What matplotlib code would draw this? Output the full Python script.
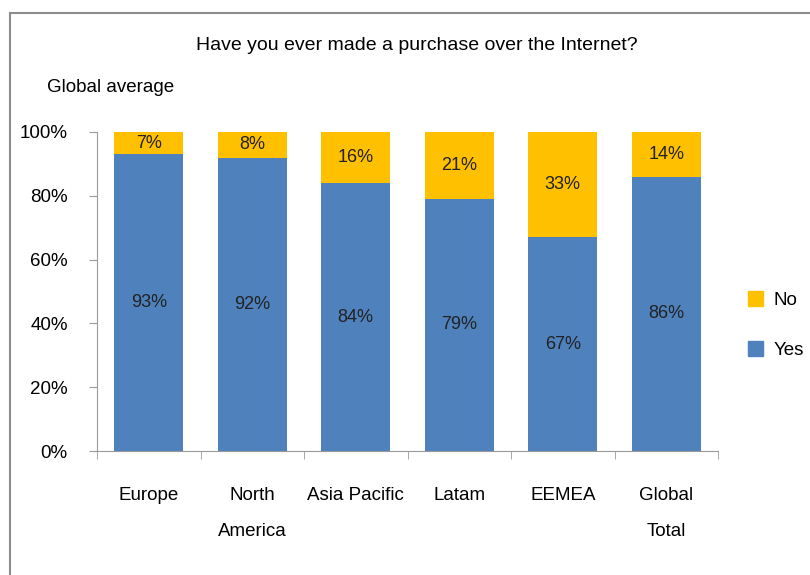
import matplotlib.pyplot as plt
from matplotlib.patches import Rectangle, Patch

plt.rcParams['font.family'] = ['Liberation Sans', 'DejaVu Sans']

regions = ["Europe", "North\nAmerica", "Asia Pacific", "Latam", "EEMEA", "Global\nTotal"]
yes_pct = [93, 92, 84, 79, 67, 86]
no_pct = [7, 8, 16, 21, 33, 14]
yticks = [0, 20, 40, 60, 80, 100]

blue = "#4F81BD"
gold = "#FFC000"

fig = plt.figure(figsize=(8.1, 5.75), dpi=100)
fig.patch.set_facecolor("white")

# thin grey frame round the slide area
fig.patches.append(Rectangle((10 / 810, -0.05), 1.2, 1 - 13 / 575 + 0.05,
                             transform=fig.transFigure, fill=False,
                             edgecolor="#8c8c8c", linewidth=1.5))

ax = fig.add_axes([97 / 810, 1 - 451 / 575, 621 / 810, 319 / 575])

x = list(range(len(regions)))
ax.bar(x, yes_pct, width=0.67, color=blue, label="Yes", zorder=2)
ax.bar(x, no_pct, width=0.67, bottom=yes_pct, color=gold, label="No", zorder=2)

for i in x:
    ax.text(i, yes_pct[i] / 2, f"{yes_pct[i]}%", ha="center", va="center",
            fontsize=13, color="#222222")
    ax.text(i, yes_pct[i] + no_pct[i] / 2, f"{no_pct[i]}%", ha="center",
            va="center", fontsize=13, color="#222222")

ax.set_xlim(-0.5, len(regions) - 0.5)
ax.set_ylim(0, 100)
ax.set_yticks(yticks)
ax.set_yticklabels([f"{v}%" for v in yticks], fontsize=13.5)
ax.set_xticks([i - 0.5 for i in range(len(regions) + 1)], minor=True)
ax.set_xticks(x)
ax.set_xticklabels(regions, fontsize=13.5, linespacing=2.45, va="top")
ax.tick_params(axis="x", which="major", length=0, pad=26)
ax.tick_params(axis="x", which="minor", length=6, color="#999999")
ax.tick_params(axis="y", length=6, color="#999999", pad=15, direction="out")
for s in ["top", "right"]:
    ax.spines[s].set_visible(False)
for s in ["left", "bottom"]:
    ax.spines[s].set_color("#999999")

fig.text(417 / 810, 1 - 45 / 575, "Have you ever made a purchase over the Internet?",
         ha="center", va="center", fontsize=14)
fig.text(47 / 810, 1 - 87 / 575, "Global average", ha="left", va="center",
         fontsize=13.5)

handles = [Patch(color=gold, label="No"), Patch(color=blue, label="Yes")]
fig.legend(handles=handles, loc="center left", bbox_to_anchor=(740 / 810, 1 - 325 / 575),
           frameon=False, fontsize=13.5, handlelength=0.85, handleheight=0.85,
           labelspacing=1.7, handletextpad=0.55, borderaxespad=0)

fig.savefig("out.png", dpi=100)
